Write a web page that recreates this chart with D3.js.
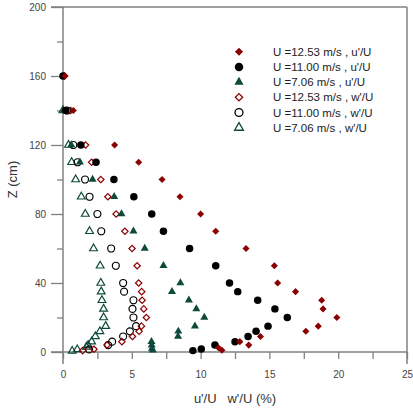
<!DOCTYPE html>
<html>
<head>
<meta charset="utf-8">
<script src="https://cdn.jsdelivr.net/npm/d3@7"></script>
<style>
  body { margin: 0; background: #fff; }
  svg { display: block; font-family: "Liberation Sans", Arial, sans-serif; }
</style>
</head>
<body>
<div id="chart"><svg></svg></div>
<script>
var width = 413,
    height = 411;

// series values: x = turbulence intensity (%), z = height (cm)
var u12x = [0.15, 0.75, 3.75, 5.5, 7.2, 8.5, 10.0, 11.1, 13.3, 15.36, 15.6, 16.9, 18.8, 18.9, 19.9, 18.55, 17.65, 14.35, 12.85, 13.5, 11.3, 11.55],
    u12z = [160, 140, 120, 110, 100, 90, 80, 70, 60, 50, 40, 35, 30, 25, 20, 15, 12, 9, 6, 4, 2.5, 1];
var u11x = [0.0, 0.2, 1.3, 2.4, 3.7, 5.15, 6.45, 7.3, 9.2, 11.1, 12.1, 12.7, 14.15, 15.4, 16.3, 14.9, 14.03, 13.45, 12.5, 11.04, 10.05, 9.44],
    u11z = [160, 140, 120, 110, 100, 90, 80, 70, 60, 50, 40, 35, 30, 25, 20, 15, 12, 9, 6, 4, 1.7, 0.8];
var u7x = [0.05, 0.6, 1.23, 2.15, 3.72, 4.25, 5.12, 5.94, 7.3, 8.53, 7.92, 9.15, 9.69, 10.27, 9.59, 8.38, 8.36, 6.43, 6.45, 6.47, 6.52],
    u7z = [140, 120, 110, 100, 90, 80, 70, 60, 50, 40, 35, 30, 25, 20, 15, 12, 9, 6, 4, 2, 1];
var w12x = [0.1, 0.55, 1.64, 2.08, 2.75, 3.26, 3.86, 4.5, 5.02, 5.39, 5.5, 5.72, 5.75, 5.87, 6.06, 5.7, 5.53, 5.05, 4.28, 3.2, 2.25, 1.43],
    w12z = [160, 140, 120, 110, 100, 90, 80, 70, 60, 50, 40, 35, 30, 25, 20, 15, 12, 9, 6, 4, 1.6, 0.8];
var w11x = [0.3, 0.75, 1.06, 1.6, 1.93, 2.5, 2.78, 3.5, 3.84, 4.37, 4.44, 5.12, 5.05, 5.12, 5.31, 4.86, 4.37, 3.57, 3.28, 1.9],
    w11z = [140, 120, 110, 100, 90, 80, 70, 60, 50, 40, 35, 30, 25, 20, 15, 12, 9, 6, 4, 1.5];
var w7x = [0.0, 0.4, 0.63, 0.92, 1.33, 1.62, 1.93, 2.22, 2.7, 2.75, 2.78, 2.83, 2.95, 2.95, 3.1, 2.68, 2.35, 2.08, 1.83, 1.7, 1.04, 0.67],
    w7z = [140, 120, 110, 100, 90, 80, 70, 60, 50, 40, 35, 30, 25, 20, 15, 12, 9, 6, 4, 3, 1.5, 0.6];

var labels = ["U =12.53 m/s , u'/U", "U =11.00 m/s , u'/U", "U =7.06 m/s , u'/U",
              "U =12.53 m/s , w'/U", "U =11.00 m/s , w'/U", "U =7.06 m/s , w'/U"];

var xMajor = [0, 5, 10, 15, 20, 25],
    xMinor = [2.5, 7.5, 12.5, 17.5, 22.5],
    yMajor = [0, 40, 80, 120, 160, 200],
    yMinor = [20, 60, 100, 140, 180];

var red = "#8b0000", green = "#0e4a3c", axisGray = "#808080";

var series = [
  { x: u12x, z: u12z, shape: d3.symbolDiamond2, size: 32, fill: red, stroke: "none" },
  { x: u11x, z: u11z, shape: d3.symbolCircle, size: 44, fill: "#000", stroke: "none" },
  { x: u7x, z: u7z, shape: d3.symbolTriangle, size: 28, fill: green, stroke: "none" },
  { x: w12x, z: w12z, shape: d3.symbolDiamond2, size: 26, fill: "none", stroke: red },
  { x: w11x, z: w11z, shape: d3.symbolCircle, size: 38, fill: "none", stroke: "#000" },
  { x: w7x, z: w7z, shape: d3.symbolTriangle, size: 26, fill: "none", stroke: green }
];

var x = d3.scaleLinear().domain([0, 25]).range([63, 407]);
var y = d3.scaleLinear().domain([0, 200]).range([352, 7]);

var svg = d3.select("#chart svg")
  .attr("width", width)
  .attr("height", height);

// axes
svg.append("g")
    .attr("transform", "translate(0," + y(0) + ")")
    .call(d3.axisBottom(x).tickValues(xMajor).tickSize(7).tickPadding(12));
svg.append("g")
    .attr("transform", "translate(0," + y(0) + ")")
    .call(d3.axisBottom(x).tickValues(xMinor).tickSize(7).tickFormat(""));
svg.append("g")
    .attr("transform", "translate(" + x(0) + ",0)")
    .call(d3.axisLeft(y).tickValues(yMajor).tickSize(12).tickPadding(5));
svg.append("g")
    .attr("transform", "translate(" + x(0) + ",0)")
    .call(d3.axisLeft(y).tickValues(yMinor).tickSize(6).tickFormat(""));

svg.selectAll(".domain").remove();
svg.selectAll(".tick line").attr("stroke", axisGray).attr("stroke-width", 1.3);
svg.selectAll(".tick text").attr("fill", "#444").style("font-size", "10px");

// frame
var frame = svg.append("g").attr("stroke", axisGray).attr("stroke-width", 1.5);
frame.append("line").attr("x1", x(0)).attr("x2", x(0)).attr("y1", y(200)).attr("y2", y(0) + 12);
frame.append("line").attr("x1", x(25)).attr("x2", x(25)).attr("y1", y(200)).attr("y2", y(0) + 12);
frame.append("line").attr("x1", x(0) - 12).attr("x2", x(25)).attr("y1", y(0)).attr("y2", y(0));
frame.append("line").attr("x1", x(0) - 12).attr("x2", x(25)).attr("y1", y(200)).attr("y2", y(200));

// axis titles
svg.append("text")
    .attr("x", (x(0) + x(25)) / 2)
    .attr("y", 403)
    .attr("text-anchor", "middle")
    .attr("fill", "#333")
    .style("font-size", "13px")
    .style("white-space", "pre")
    .text("u'/U   w'/U (%)");
svg.append("text")
    .attr("transform", "translate(12," + y(100) + ") rotate(-90)")
    .attr("text-anchor", "middle")
    .attr("dy", "0.35em")
    .attr("fill", "#333")
    .style("font-size", "13px")
    .text("Z (cm)");

// points, last series drawn first
series.slice().reverse().forEach(function (s) {
  var sym = d3.symbol().type(s.shape).size(s.size);
  svg.append("g")
      .attr("class", "points")
    .selectAll("path")
      .data(d3.range(s.x.length))
    .enter().append("path")
      .attr("d", sym)
      .attr("transform", function (i) { return "translate(" + x(s.x[i]) + "," + y(s.z[i]) + ")"; })
      .attr("fill", s.fill)
      .attr("stroke", s.stroke)
      .attr("stroke-width", 1.2);
});

// legend
var legend = svg.append("g").attr("class", "legend");
series.forEach(function (s, i) {
  var ly = 51.7 + i * 15.2;
  legend.append("path")
      .attr("d", d3.symbol().type(s.shape).size(s.size * 1.3))
      .attr("transform", "translate(239," + ly + ")")
      .attr("fill", s.fill)
      .attr("stroke", s.stroke)
      .attr("stroke-width", 1.3);
  legend.append("text")
      .attr("x", 273)
      .attr("y", ly)
      .attr("dy", "0.35em")
      .attr("fill", "#222")
      .style("font-size", "11.5px")
      .text(labels[i]);
});
</script>
</body>
</html>
